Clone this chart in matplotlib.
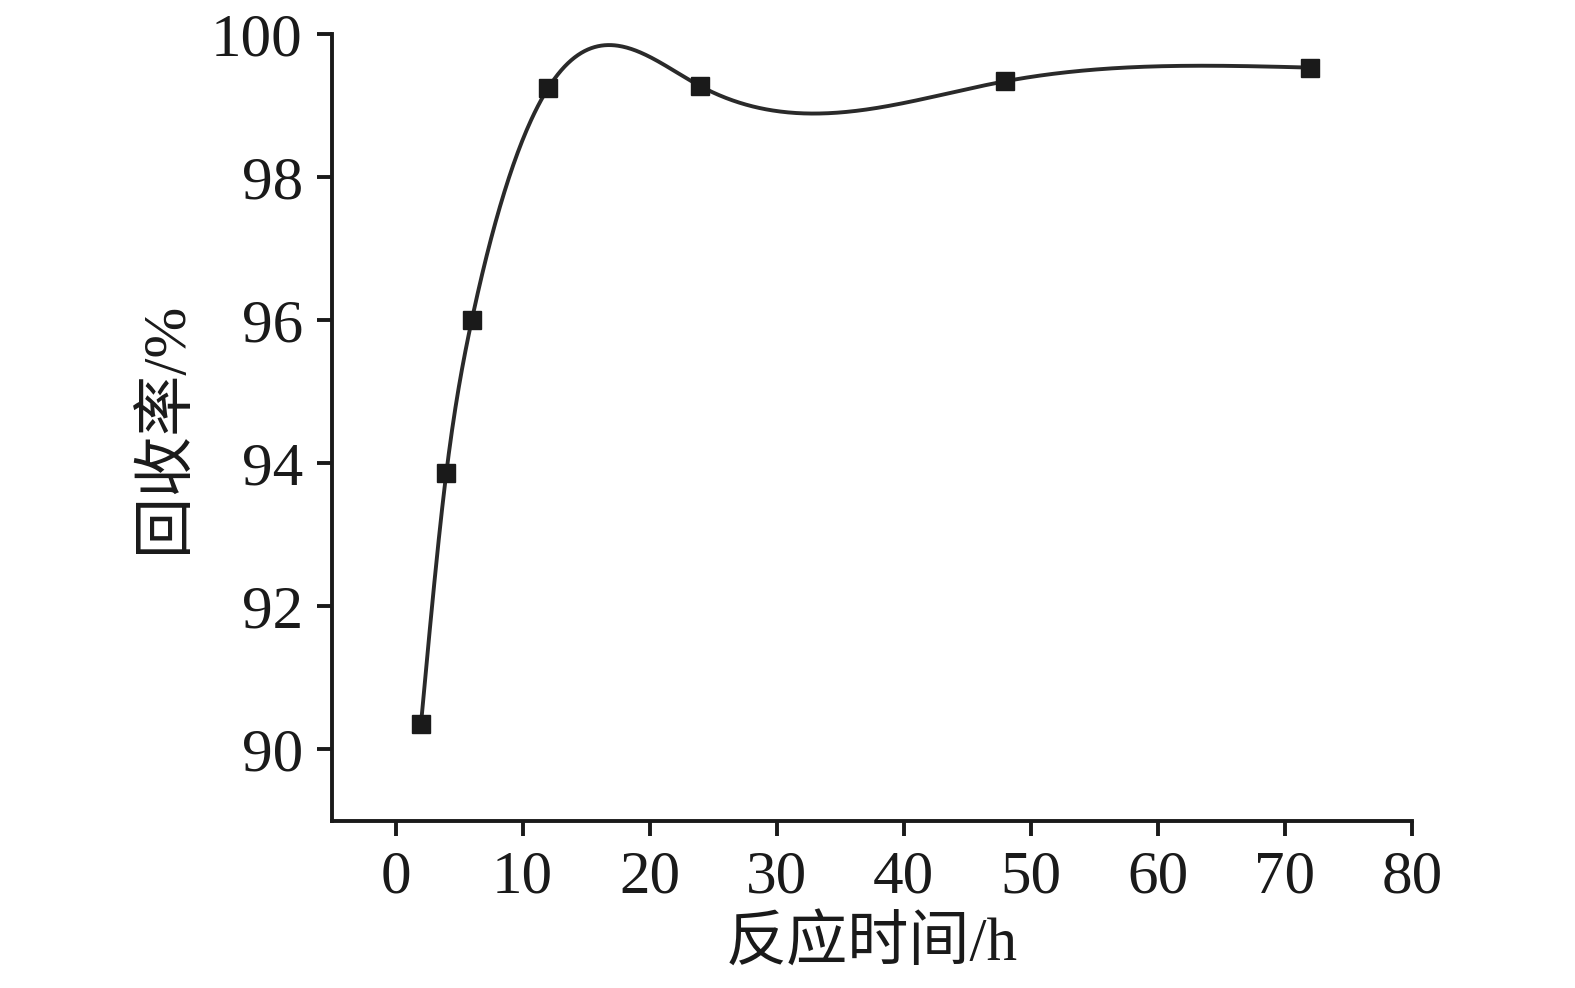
import numpy as np
import matplotlib
matplotlib.use("Agg")
import matplotlib.pyplot as plt

# Data
time_h = [2, 4, 6, 12, 24, 48, 72]
recovery = [90.35, 93.87, 96.0, 99.24, 99.27, 99.34, 99.53]
x_ticks = [0, 10, 20, 30, 40, 50, 60, 70, 80]
y_ticks = [90, 92, 94, 96, 98, 100]
x_label = "反应时间/h"
y_label = "回收率/%"


def natural_spline(x, y, xs):
    x = np.asarray(x, float)
    y = np.asarray(y, float)
    n = len(x)
    h = np.diff(x)
    A = np.zeros((n, n))
    b = np.zeros(n)
    A[0, 0] = 1
    A[-1, -1] = 1
    for i in range(1, n - 1):
        A[i, i - 1] = h[i - 1]
        A[i, i] = 2 * (h[i - 1] + h[i])
        A[i, i + 1] = h[i]
        b[i] = 6 * ((y[i + 1] - y[i]) / h[i] - (y[i] - y[i - 1]) / h[i - 1])
    M = np.linalg.solve(A, b)
    idx = np.clip(np.searchsorted(x, xs) - 1, 0, n - 2)
    x0, x1 = x[idx], x[idx + 1]
    hh = x1 - x0
    t0 = x1 - xs
    t1 = xs - x0
    return (M[idx] * t0 ** 3 / (6 * hh) + M[idx + 1] * t1 ** 3 / (6 * hh)
            + (y[idx] / hh - M[idx] * hh / 6) * t0
            + (y[idx + 1] / hh - M[idx + 1] * hh / 6) * t1)


fig = plt.figure(figsize=(15.75, 9.88), dpi=100)
ax = fig.add_axes([0.2108, 0.169, 0.8965 - 0.2108, 0.9656 - 0.169])

xs = np.linspace(time_h[0], time_h[-1], 800)
ax.plot(xs, natural_spline(time_h, recovery, xs), color="#2a2a2a", lw=2.8)
ax.plot(time_h, recovery, ls="none", marker="s", ms=12.5, color="#1a1a1a")

ax.set_xlim(-5, 80)
ax.set_ylim(89, 100)
ax.set_xticks(x_ticks)
ax.set_yticks(y_ticks)

for s in ["top", "right"]:
    ax.spines[s].set_visible(False)
for s in ["left", "bottom"]:
    ax.spines[s].set_linewidth(2.8)
    ax.spines[s].set_color("#1a1a1a")

ax.tick_params(direction="out", length=11, width=2.8, color="#1a1a1a", pad=10)
serif = ["Liberation Serif", "Noto Sans CJK SC"]
for lab in ax.get_xticklabels() + ax.get_yticklabels():
    lab.set_fontfamily(serif)
    lab.set_fontsize(44)
    lab.set_color("#1a1a1a")

ax.set_xlabel(x_label, fontsize=44, family=serif, color="#1a1a1a", labelpad=8)
ax.set_ylabel(y_label, fontsize=44, family=serif, color="#1a1a1a", labelpad=12)

fig.savefig("out.png", dpi=100, facecolor="white")
